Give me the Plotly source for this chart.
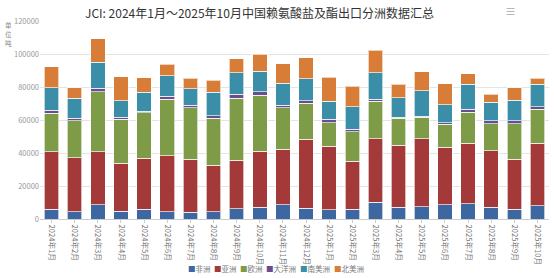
import plotly.graph_objects as go

months = ["2024年1月","2024年2月","2024年3月","2024年4月","2024年5月","2024年6月","2024年7月","2024年8月",
          "2024年9月","2024年10月","2024年11月","2024年12月","2025年1月","2025年2月","2025年3月","2025年4月",
          "2025年5月","2025年6月","2025年7月","2025年8月","2025年9月","2025年10月"]

africa = [5900, 4400, 8500, 4800, 5900, 4400, 4000, 4400, 6100, 7100, 8500, 6500, 5500, 5900, 10100, 7100, 7500, 8500, 9100, 7100, 5900, 7900]
asia = [34900, 32800, 32300, 28900, 30900, 33800, 32200, 28300, 29500, 34100, 33900, 41800, 38700, 29200, 38400, 37700, 41000, 34900, 36800, 34300, 30300, 38000]
europe = [23200, 22200, 36400, 26700, 27600, 34300, 31300, 28300, 37500, 33900, 25100, 21800, 14200, 17800, 23000, 16200, 13100, 14000, 18900, 16200, 21400, 20600]
oceania = [2000, 1800, 2000, 1200, 1000, 2000, 1400, 1600, 2400, 1900, 1400, 1600, 2000, 1400, 1200, 600, 800, 1000, 1700, 1800, 1800, 1600]
s_america = [13600, 11900, 15700, 10100, 11400, 12400, 9900, 14200, 13200, 12700, 13300, 13300, 11100, 13600, 16000, 11900, 15200, 10700, 15300, 11300, 12700, 13500]
n_america = [12700, 6500, 14200, 14600, 8800, 7000, 6400, 7400, 8500, 10100, 11900, 12800, 14400, 12700, 13700, 8300, 11700, 12900, 6300, 4800, 7500, 3600]

series_names = ["非洲", "亚洲", "欧洲", "大洋洲", "南美洲", "北美洲"]
series_values = [africa, asia, europe, oceania, s_america, n_america]
colors = ["#3d67a0", "#a33a39", "#7e9b47", "#6a4d8f", "#3a8ea8", "#d77d37"]

y_ticks = [0, 20000, 40000, 60000, 80000, 100000, 120000]
unit_chars = ["单", "位", "吨"]

FONT = "Noto Sans CJK SC, Noto Sans, sans-serif"

fig = go.Figure()
for name, vals, c in zip(series_names, series_values, colors):
    fig.add_trace(go.Bar(
        x=months, y=vals, name=name,
        marker=dict(color=c, line=dict(color="rgba(255,255,255,0.65)", width=1)),
        showlegend=False,
    ))

fig.update_layout(
    width=554, height=278,
    margin=dict(l=40, r=5, t=21, b=59),
    barmode="stack", bargap=0.37,
    paper_bgcolor="white", plot_bgcolor="white",
    font=dict(family=FONT, size=8, color="#888"),
    xaxis=dict(
        type="category", tickangle=90, showgrid=False,
        showline=True, linecolor="#ccc", linewidth=1,
        ticks="outside", ticklen=3, tickcolor="#ccc",
        tickfont=dict(size=7.6, color="#777"),
    ),
    yaxis=dict(
        range=[0, 120000], tickvals=y_ticks, ticktext=[str(v) for v in y_ticks],
        showgrid=True, gridcolor="#e4e4e4", gridwidth=1, zeroline=False,
        showline=False, ticks="", tickfont=dict(size=7.5, color="#999"),
    ),
)

# Title
fig.add_annotation(
    text="JCI: 2024年1月～2025年10月中国赖氨酸盐及酯出口分洲数据汇总",
    xref="paper", yref="paper", x=(259 - 40) / 509, y=1 + (21 - 12) / 198,
    xanchor="center", yanchor="middle", showarrow=False,
    font=dict(family=FONT, size=12, color="#333"),
)
# Toolbox icon
fig.add_annotation(
    text="≡", xref="paper", yref="paper", x=(510 - 40) / 509, y=1 + (21 - 11) / 198,
    xanchor="center", yanchor="middle", showarrow=False,
    font=dict(family=FONT, size=11, color="#aaa"),
)
# Unit label (vertical, one character per line)
for i, ch in enumerate(unit_chars):
    fig.add_annotation(
        text=ch, xref="paper", yref="paper", x=-(40 - 8) / 509, y=1 - (25 + 9 * i - 21) / 198,
        xanchor="center", yanchor="middle", showarrow=False, borderpad=0,
        font=dict(family=FONT, size=6.5, color="#888"),
    )

# Legend (manual, compact like the reference)
legend_x = [186, 212, 238, 264, 298, 332]
for lx, name, c in zip(legend_x, series_names, colors):
    fig.add_annotation(
        text=f'<span style="color:{c}">■</span>{name}',
        xref="paper", yref="paper", x=(lx - 40) / 509, y=-(268 - 219) / 198,
        xanchor="left", yanchor="middle", showarrow=False,
        font=dict(family=FONT, size=7.5, color="#777"),
    )

fig.write_html("out.html")
